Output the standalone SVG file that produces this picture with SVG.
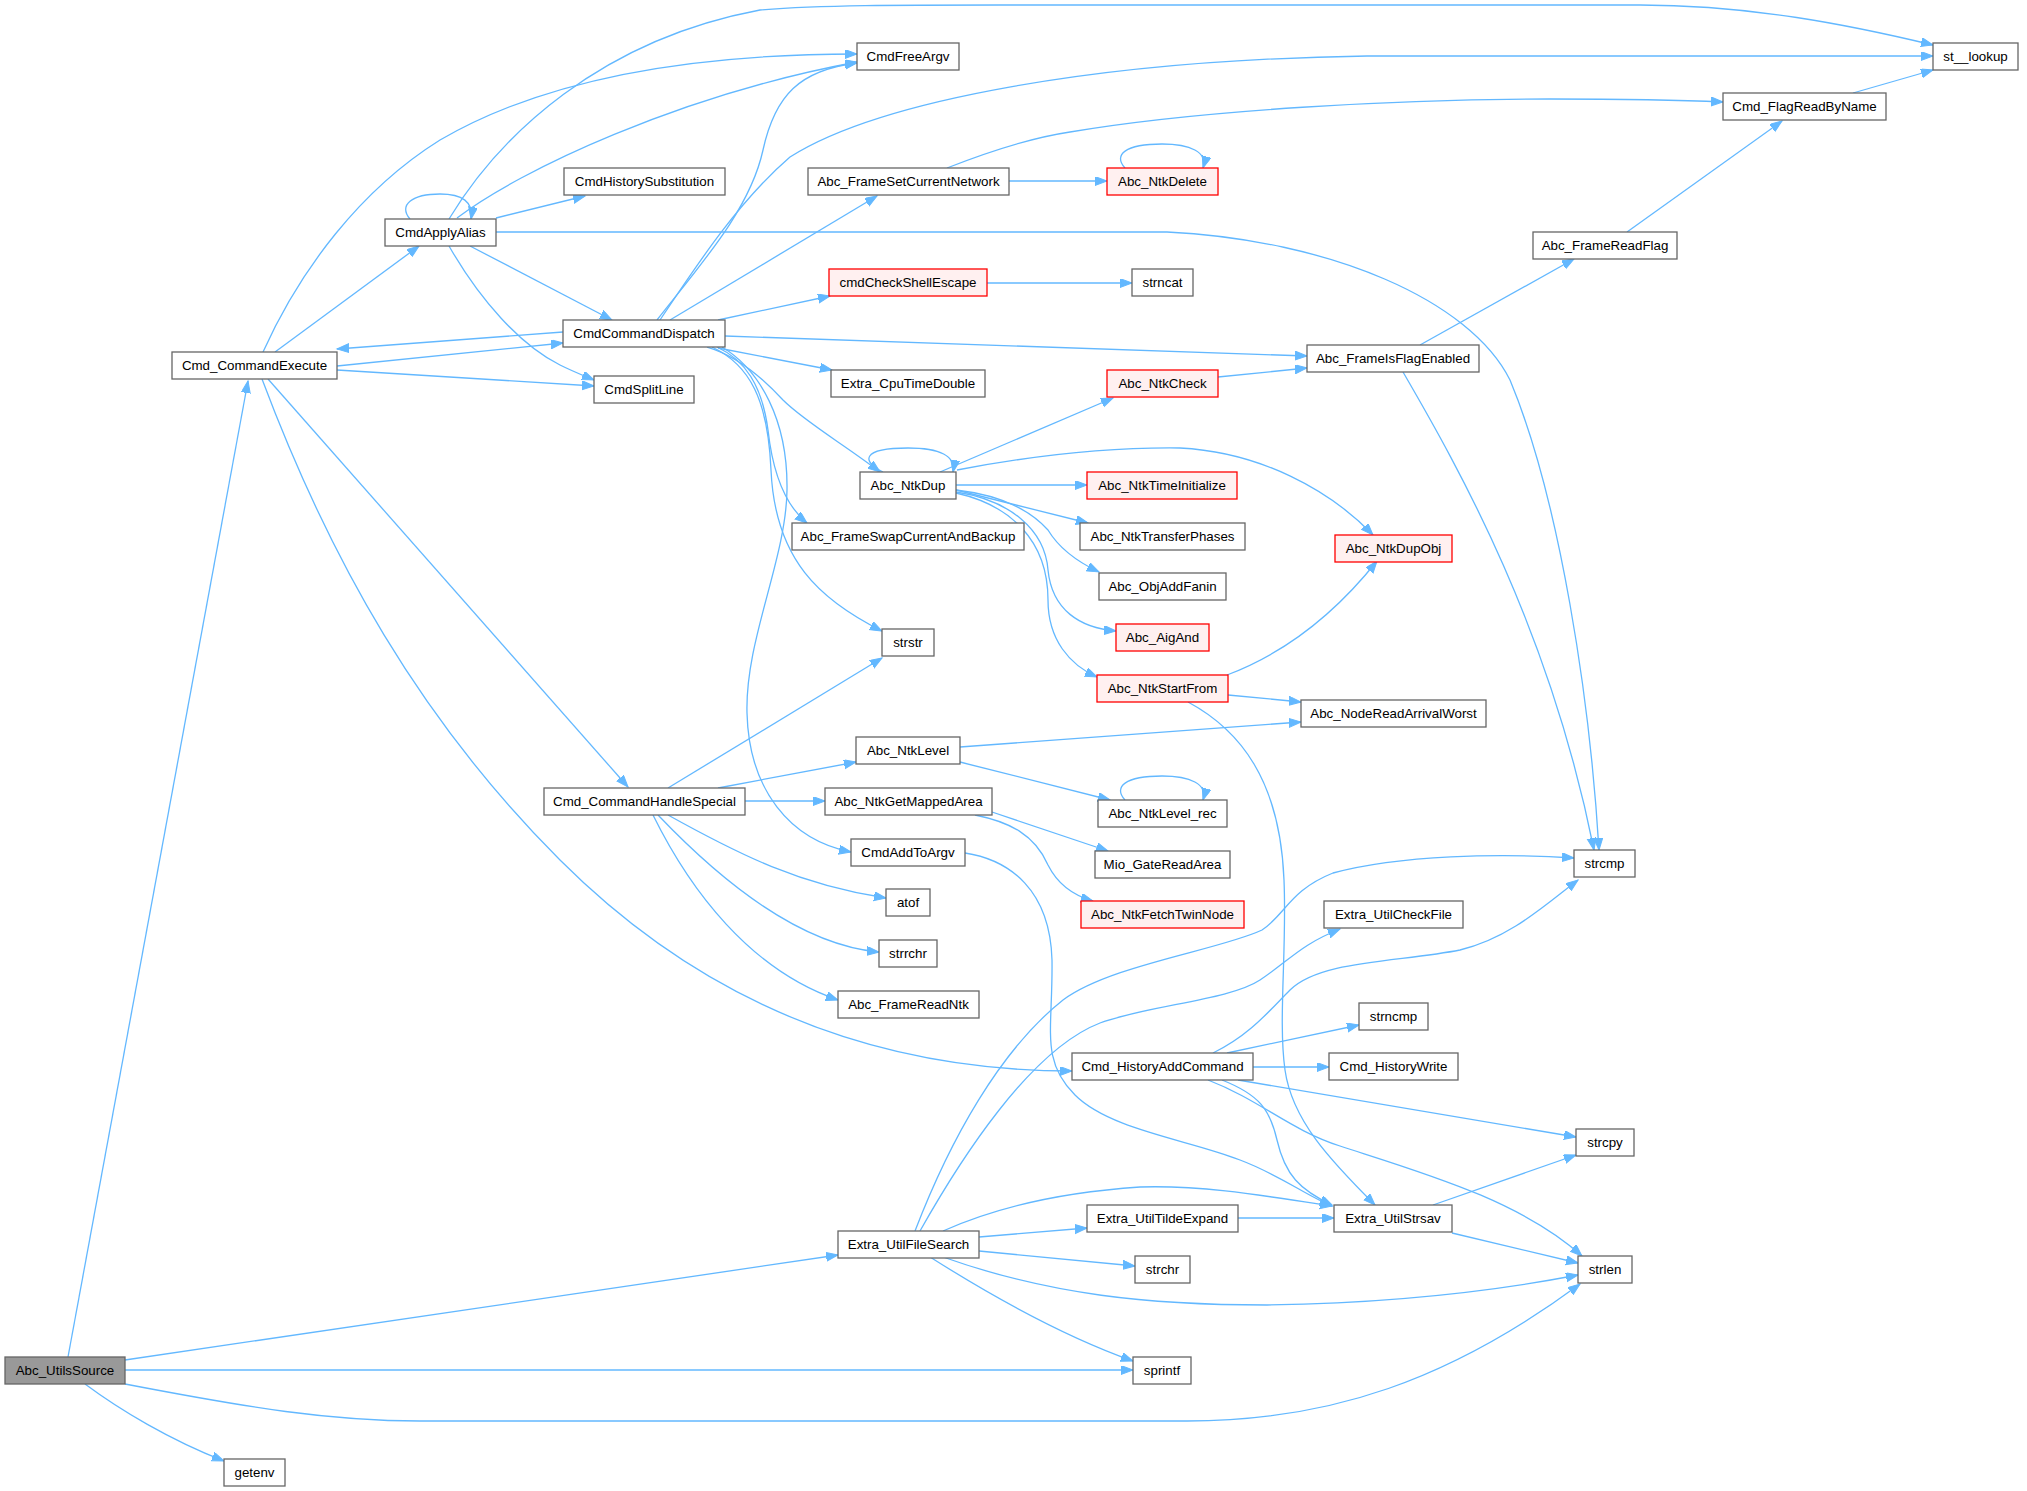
<svg xmlns="http://www.w3.org/2000/svg" width="2027" height="1491" viewBox="0 0 2027 1491">
<style>
.n rect{fill:#ffffff;stroke:#666666;stroke-width:1.3}
.n.r rect{fill:#fff0f0;stroke:#ff0000}
.n.g rect{fill:#999999;stroke:#666666}
.n text{font-family:"Liberation Sans",Arial,sans-serif;font-size:13.33px;fill:#000000;text-anchor:middle}
#edges path{fill:none;stroke:#63b8ff;stroke-width:1.3;marker-end:url(#a)}
</style>
<defs>
<marker id="a" markerUnits="userSpaceOnUse" markerWidth="14" markerHeight="11" refX="12" refY="4.5" orient="auto"><path d="M0,0 L12,4.5 L0,9 z" fill="#63b8ff" stroke="#63b8ff" stroke-width="1"/></marker>
</defs>
<rect width="2027" height="1491" fill="#ffffff"/>
<g id="edges">
<path d="M68,1357 L248,381"/>
<path d="M125,1360 L838,1255"/>
<path d="M125,1370 L1133,1370"/>
<path d="M125,1384 C250,1408 330,1421 420,1421 L1187,1421 C1330,1421 1450,1380 1580,1284"/>
<path d="M85,1384 C120,1410 170,1440 224,1461"/>
<path d="M275,352 L419,246"/>
<path d="M263,352 C300,270 360,190 440,140 C560,70 720,54 857,54"/>
<path d="M337,366 L563,343"/>
<path d="M337,370 L594,386"/>
<path d="M268,379 L628,787"/>
<path d="M262,379 C330,560 420,720 560,860 C640,940 800,1071 1072,1071"/>
<path d="M410,219 C398,205 412,194 440,194 C462,194 474,202 471,219"/>
<path d="M457,218 C520,170 680,95 857,62"/>
<path d="M449,219 C500,135 600,40 760,10 C820,5 900,5 1000,5 L1640,5 C1750,5 1850,25 1933,45"/>
<path d="M496,218 L585,196"/>
<path d="M496,232 L1167,232 C1330,240 1470,300 1510,380 C1560,500 1590,700 1599,850"/>
<path d="M470,246 L612,320"/>
<path d="M449,246 C480,300 520,345 560,365 C572,371 582,375 594,380"/>
<path d="M563,332 L337,349"/>
<path d="M657,320 C700,265 750,210 763,150 C775,95 800,70 857,63"/>
<path d="M660,320 C700,260 740,200 790,157 C880,100 1100,60 1367,56 L1933,56"/>
<path d="M670,320 L877,196"/>
<path d="M718,320 L830,296"/>
<path d="M725,336 L1307,356"/>
<path d="M718,348 L832,370"/>
<path d="M707,347 C735,355 760,375 783,400 C805,422 845,445 880,472"/>
<path d="M717,347 C745,360 762,385 768,430 C773,475 785,505 807,523"/>
<path d="M712,347 C750,365 768,400 771,470 C775,560 820,600 882,631"/>
<path d="M722,347 C760,370 788,420 787,490 C786,560 745,640 747,713 C749,790 790,840 851,852"/>
<path d="M947,168 C980,155 1030,138 1070,132 C1200,110 1400,99 1550,99 C1620,99 1680,100 1723,102"/>
<path d="M1009,181 L1107,181"/>
<path d="M1125,168 C1113,155 1125,144 1162,144 C1190,144 1208,152 1203,168"/>
<path d="M987,283 L1132,283"/>
<path d="M1853,93 L1933,70"/>
<path d="M1627,232 L1782,121"/>
<path d="M1420,345 L1574,259"/>
<path d="M1403,372 C1460,470 1550,630 1594,850"/>
<path d="M1218,377 L1307,368"/>
<path d="M883,472 C862,462 860,448 908,448 C940,448 956,456 953,472"/>
<path d="M940,472 L1113,398"/>
<path d="M957,470 C1020,458 1100,447 1180,448 C1260,452 1330,490 1373,535"/>
<path d="M956,485 L1087,485"/>
<path d="M956,490 L1088,523"/>
<path d="M956,490 C1000,495 1030,510 1048,530 C1060,550 1080,563 1099,572"/>
<path d="M956,492 C1010,500 1045,530 1048,570 C1052,610 1080,628 1116,631"/>
<path d="M956,493 C1010,505 1048,540 1048,600 C1048,640 1070,665 1097,677"/>
<path d="M1227,675 C1280,655 1330,620 1377,561"/>
<path d="M1228,695 L1301,702"/>
<path d="M1188,702 C1240,730 1280,780 1284,880 C1287,950 1278,1020 1285,1070 C1292,1120 1330,1160 1375,1205"/>
<path d="M960,747 L1301,722"/>
<path d="M960,762 L1110,800"/>
<path d="M1125,800 C1113,787 1125,776 1162,776 C1190,776 1208,784 1203,800"/>
<path d="M668,788 L882,658"/>
<path d="M718,788 L856,762"/>
<path d="M745,801 L825,801"/>
<path d="M668,815 C740,855 800,885 886,898"/>
<path d="M658,815 C720,880 800,945 879,952"/>
<path d="M653,815 C690,890 750,970 838,1000"/>
<path d="M992,812 L1108,851"/>
<path d="M975,815 C1010,822 1035,835 1048,865 C1058,885 1075,896 1093,901"/>
<path d="M965,853 C1010,860 1050,890 1052,960 C1053,1030 1040,1060 1075,1095 C1110,1130 1190,1140 1240,1160 C1280,1175 1305,1195 1332,1206"/>
<path d="M1213,1053 C1250,1035 1270,1010 1290,990 C1320,960 1400,962 1460,950 C1510,938 1545,905 1578,880"/>
<path d="M1227,1053 L1359,1025"/>
<path d="M1253,1067 L1329,1067"/>
<path d="M1238,1080 L1576,1137"/>
<path d="M1208,1080 C1260,1100 1290,1130 1340,1146 C1420,1172 1520,1200 1582,1256"/>
<path d="M1222,1080 C1260,1095 1270,1110 1277,1140 C1285,1175 1300,1190 1332,1205"/>
<path d="M915,1231 C950,1140 1000,1050 1063,1000 C1110,965 1220,950 1262,930 C1285,915 1290,890 1333,873 C1400,855 1500,853 1574,858"/>
<path d="M920,1231 C960,1160 1030,1050 1100,1023 C1150,1005 1230,1000 1260,980 C1290,960 1300,945 1340,929"/>
<path d="M943,1231 C990,1210 1050,1193 1140,1187 C1200,1185 1260,1195 1332,1206"/>
<path d="M979,1237 L1087,1228"/>
<path d="M979,1251 L1135,1266"/>
<path d="M943,1257 C1050,1295 1150,1305 1267,1305 C1400,1303 1500,1290 1578,1275"/>
<path d="M930,1257 C990,1295 1060,1335 1133,1361"/>
<path d="M1238,1218 L1334,1218"/>
<path d="M1433,1205 L1576,1155"/>
<path d="M1452,1233 L1578,1263"/>
</g>
<g id="n_Abc_UtilsSource" class="n g"><rect x="5" y="1357" width="120" height="27"/><text x="65" y="1375">Abc_UtilsSource</text></g>
<g id="n_Cmd_CommandExecute" class="n"><rect x="172" y="352" width="165" height="27"/><text x="254.5" y="370">Cmd_CommandExecute</text></g>
<g id="n_CmdApplyAlias" class="n"><rect x="385" y="219" width="111" height="27"/><text x="440.5" y="237">CmdApplyAlias</text></g>
<g id="n_CmdFreeArgv" class="n"><rect x="857" y="43" width="102" height="27"/><text x="908" y="61">CmdFreeArgv</text></g>
<g id="n_CmdHistorySubstitution" class="n"><rect x="564" y="168" width="161" height="27"/><text x="644.5" y="186">CmdHistorySubstitution</text></g>
<g id="n_CmdCommandDispatch" class="n"><rect x="563" y="320" width="162" height="27"/><text x="644" y="338">CmdCommandDispatch</text></g>
<g id="n_CmdSplitLine" class="n"><rect x="594" y="376" width="100" height="27"/><text x="644" y="394">CmdSplitLine</text></g>
<g id="n_Cmd_CommandHandleSpecial" class="n"><rect x="544" y="788" width="201" height="27"/><text x="644.5" y="806">Cmd_CommandHandleSpecial</text></g>
<g id="n_Cmd_HistoryAddCommand" class="n"><rect x="1072" y="1053" width="181" height="27"/><text x="1162.5" y="1071">Cmd_HistoryAddCommand</text></g>
<g id="n_Extra_UtilFileSearch" class="n"><rect x="838" y="1231" width="141" height="27"/><text x="908.5" y="1249">Extra_UtilFileSearch</text></g>
<g id="n_getenv" class="n"><rect x="224" y="1459" width="61" height="27"/><text x="254.5" y="1477">getenv</text></g>
<g id="n_sprintf" class="n"><rect x="1133" y="1357" width="58" height="27"/><text x="1162" y="1375">sprintf</text></g>
<g id="n_strlen" class="n"><rect x="1578" y="1256" width="54" height="27"/><text x="1605" y="1274">strlen</text></g>
<g id="n_st__lookup" class="n"><rect x="1933" y="43" width="85" height="27"/><text x="1975.5" y="61">st__lookup</text></g>
<g id="n_Abc_FrameSetCurrentNetwork" class="n"><rect x="808" y="168" width="201" height="27"/><text x="908.5" y="186">Abc_FrameSetCurrentNetwork</text></g>
<g id="n_cmdCheckShellEscape" class="n r"><rect x="829" y="269" width="158" height="27"/><text x="908" y="287">cmdCheckShellEscape</text></g>
<g id="n_Extra_CpuTimeDouble" class="n"><rect x="831" y="370" width="154" height="27"/><text x="908" y="388">Extra_CpuTimeDouble</text></g>
<g id="n_Abc_NtkDup" class="n"><rect x="860" y="472" width="96" height="27"/><text x="908" y="490">Abc_NtkDup</text></g>
<g id="n_Abc_FrameSwapCurrentAndBackup" class="n"><rect x="792" y="523" width="232" height="27"/><text x="908" y="541">Abc_FrameSwapCurrentAndBackup</text></g>
<g id="n_strstr" class="n"><rect x="882" y="629" width="52" height="27"/><text x="908" y="647">strstr</text></g>
<g id="n_CmdAddToArgv" class="n"><rect x="851" y="839" width="114" height="27"/><text x="908" y="857">CmdAddToArgv</text></g>
<g id="n_Abc_NtkDelete" class="n r"><rect x="1107" y="168" width="111" height="27"/><text x="1162.5" y="186">Abc_NtkDelete</text></g>
<g id="n_strncat" class="n"><rect x="1132" y="269" width="61" height="27"/><text x="1162.5" y="287">strncat</text></g>
<g id="n_Abc_FrameIsFlagEnabled" class="n"><rect x="1307" y="345" width="172" height="27"/><text x="1393" y="363">Abc_FrameIsFlagEnabled</text></g>
<g id="n_Abc_NtkCheck" class="n r"><rect x="1107" y="370" width="111" height="27"/><text x="1162.5" y="388">Abc_NtkCheck</text></g>
<g id="n_Abc_NtkTimeInitialize" class="n r"><rect x="1087" y="472" width="150" height="27"/><text x="1162" y="490">Abc_NtkTimeInitialize</text></g>
<g id="n_Cmd_FlagReadByName" class="n"><rect x="1723" y="93" width="163" height="27"/><text x="1804.5" y="111">Cmd_FlagReadByName</text></g>
<g id="n_Abc_FrameReadFlag" class="n"><rect x="1533" y="232" width="144" height="27"/><text x="1605" y="250">Abc_FrameReadFlag</text></g>
<g id="n_Abc_NtkTransferPhases" class="n"><rect x="1080" y="523" width="165" height="27"/><text x="1162.5" y="541">Abc_NtkTransferPhases</text></g>
<g id="n_Abc_NtkDupObj" class="n r"><rect x="1335" y="535" width="117" height="27"/><text x="1393.5" y="553">Abc_NtkDupObj</text></g>
<g id="n_Abc_ObjAddFanin" class="n"><rect x="1099" y="573" width="127" height="27"/><text x="1162.5" y="591">Abc_ObjAddFanin</text></g>
<g id="n_Abc_AigAnd" class="n r"><rect x="1116" y="624" width="93" height="27"/><text x="1162.5" y="642">Abc_AigAnd</text></g>
<g id="n_Abc_NtkStartFrom" class="n r"><rect x="1097" y="675" width="131" height="27"/><text x="1162.5" y="693">Abc_NtkStartFrom</text></g>
<g id="n_Abc_NodeReadArrivalWorst" class="n"><rect x="1301" y="700" width="185" height="27"/><text x="1393.5" y="718">Abc_NodeReadArrivalWorst</text></g>
<g id="n_Abc_NtkLevel" class="n"><rect x="856" y="737" width="104" height="27"/><text x="908" y="755">Abc_NtkLevel</text></g>
<g id="n_Abc_NtkLevel_rec" class="n"><rect x="1098" y="800" width="129" height="27"/><text x="1162.5" y="818">Abc_NtkLevel_rec</text></g>
<g id="n_Abc_NtkGetMappedArea" class="n"><rect x="825" y="788" width="167" height="27"/><text x="908.5" y="806">Abc_NtkGetMappedArea</text></g>
<g id="n_Mio_GateReadArea" class="n"><rect x="1095" y="851" width="135" height="27"/><text x="1162.5" y="869">Mio_GateReadArea</text></g>
<g id="n_Abc_NtkFetchTwinNode" class="n r"><rect x="1081" y="901" width="163" height="27"/><text x="1162.5" y="919">Abc_NtkFetchTwinNode</text></g>
<g id="n_Extra_UtilCheckFile" class="n"><rect x="1324" y="901" width="139" height="27"/><text x="1393.5" y="919">Extra_UtilCheckFile</text></g>
<g id="n_strcmp" class="n"><rect x="1574" y="850" width="61" height="27"/><text x="1604.5" y="868">strcmp</text></g>
<g id="n_atof" class="n"><rect x="886" y="889" width="44" height="27"/><text x="908" y="907">atof</text></g>
<g id="n_strrchr" class="n"><rect x="879" y="940" width="58" height="27"/><text x="908" y="958">strrchr</text></g>
<g id="n_Abc_FrameReadNtk" class="n"><rect x="838" y="991" width="141" height="27"/><text x="908.5" y="1009">Abc_FrameReadNtk</text></g>
<g id="n_strncmp" class="n"><rect x="1359" y="1003" width="69" height="27"/><text x="1393.5" y="1021">strncmp</text></g>
<g id="n_Cmd_HistoryWrite" class="n"><rect x="1329" y="1053" width="129" height="27"/><text x="1393.5" y="1071">Cmd_HistoryWrite</text></g>
<g id="n_Extra_UtilTildeExpand" class="n"><rect x="1087" y="1205" width="151" height="27"/><text x="1162.5" y="1223">Extra_UtilTildeExpand</text></g>
<g id="n_Extra_UtilStrsav" class="n"><rect x="1334" y="1205" width="118" height="27"/><text x="1393" y="1223">Extra_UtilStrsav</text></g>
<g id="n_strchr" class="n"><rect x="1135" y="1256" width="55" height="27"/><text x="1162.5" y="1274">strchr</text></g>
<g id="n_strcpy" class="n"><rect x="1576" y="1129" width="58" height="27"/><text x="1605" y="1147">strcpy</text></g>
</svg>
